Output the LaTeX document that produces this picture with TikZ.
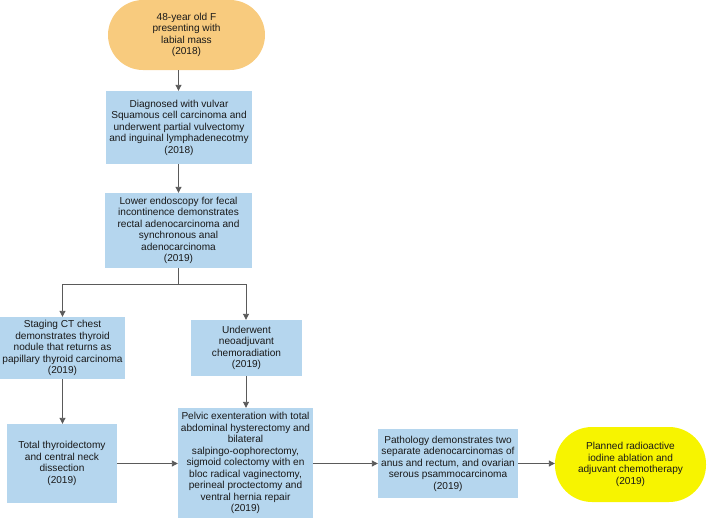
\documentclass[tikz,border=0pt]{standalone}
\usepackage{fontspec}
\setmainfont{Liberation Sans}
\usetikzlibrary{arrows.meta}
\definecolor{boxblue}{HTML}{B5D6EE}
\definecolor{startorange}{HTML}{F8CB7E}
\definecolor{endyellow}{HTML}{F7F400}
\definecolor{arrowgray}{HTML}{5A5A5A}
\begin{document}
\begin{tikzpicture}[x=1pt,y=-1pt,
  every node/.style={font=\fontsize{10.1}{11.5}\selectfont, align=center, inner sep=1pt, text=black!90},
  bluebox/.style={fill=boxblue, draw=none},
  flowarrow/.style={draw=arrowgray, line width=0.9pt, -{Triangle[length=6pt,width=6pt]}},
  flowline/.style={draw=arrowgray, line width=0.9pt}]
\useasboundingbox (0,0) rectangle (709,520);
\node[fill=startorange, rounded corners=35pt, minimum width=157pt, minimum height=70pt] (start) at (186.5,35) {48-year old F\\presenting with\\labial mass\\(2018)};
\node[bluebox, minimum width=146pt, minimum height=73pt] (diag) at (179,127.5) {Diagnosed with vulvar\\Squamous cell carcinoma and\\underwent partial vulvectomy\\and inguinal lymphadenecotmy\\(2018)};
\node[bluebox, minimum width=147pt, minimum height=75pt] (endo) at (178.5,230.5) {Lower endoscopy for fecal\\incontinence demonstrates\\rectal adenocarcinoma and\\synchronous anal\\adenocarcinoma\\(2019)};
\node[bluebox, minimum width=125pt, minimum height=62pt] (ct) at (62.5,348) {Staging CT chest\\demonstrates thyroid\\nodule that returns as\\papillary thyroid carcinoma\\(2019)};
\node[bluebox, minimum width=111pt, minimum height=56pt] (neo) at (246.5,348) {Underwent\\neoadjuvant\\chemoradiation\\(2019)};
\node[bluebox, minimum width=110pt, minimum height=79pt] (thyr) at (62,463.5) {Total thyroidectomy\\and central neck\\dissection\\(2019)};
\node[bluebox, minimum width=135pt, minimum height=110pt] (pelvic) at (245.5,463) {Pelvic exenteration with total\\abdominal hysterectomy and\\bilateral\\salpingo-oophorectomy,\\sigmoid colectomy with en\\bloc radical vaginectomy,\\perineal proctectomy and\\ventral hernia repair\\(2019)};
\node[bluebox, minimum width=140pt, minimum height=69pt] (path) at (448,463.5) {Pathology demonstrates two\\separate adenocarcinomas of\\anus and rectum, and ovarian\\serous psammocarcinoma\\(2019)};
\node[fill=endyellow, rounded corners=37pt, minimum width=151pt, minimum height=75pt] (final) at (630.5,464.5) {Planned radioactive\\iodine ablation and\\adjuvant chemotherapy\\(2019)};
\coordinate (col) at (178.5,0);
\coordinate (split) at (178.5,284);
\coordinate (splitL) at (62.5,284);
\coordinate (splitR) at (246,284);
\draw[flowarrow] (start.south -| col) -- (diag.north -| col);
\draw[flowarrow] (diag.south -| col) -- (endo.north -| col);
\draw[flowline] (endo.south -| split) -- (split);
\draw[flowarrow] (splitL) -- (splitL |- ct.north);
\draw[flowline] (splitL) -- (splitR);
\draw[flowarrow] (splitR) -- (splitR |- neo.north);
\draw[flowarrow] (ct.south -| splitL) -- (thyr.north -| splitL);
\draw[flowarrow] (neo.south -| splitR) -- (pelvic.north -| splitR);
\draw[flowarrow] (thyr.east) -- (thyr.east -| pelvic.west);
\draw[flowarrow] (pelvic.east |- path.west) -- (path.west);
\draw[flowarrow] (path.east) -- (path.east -| final.west);
\end{tikzpicture}
\end{document}
